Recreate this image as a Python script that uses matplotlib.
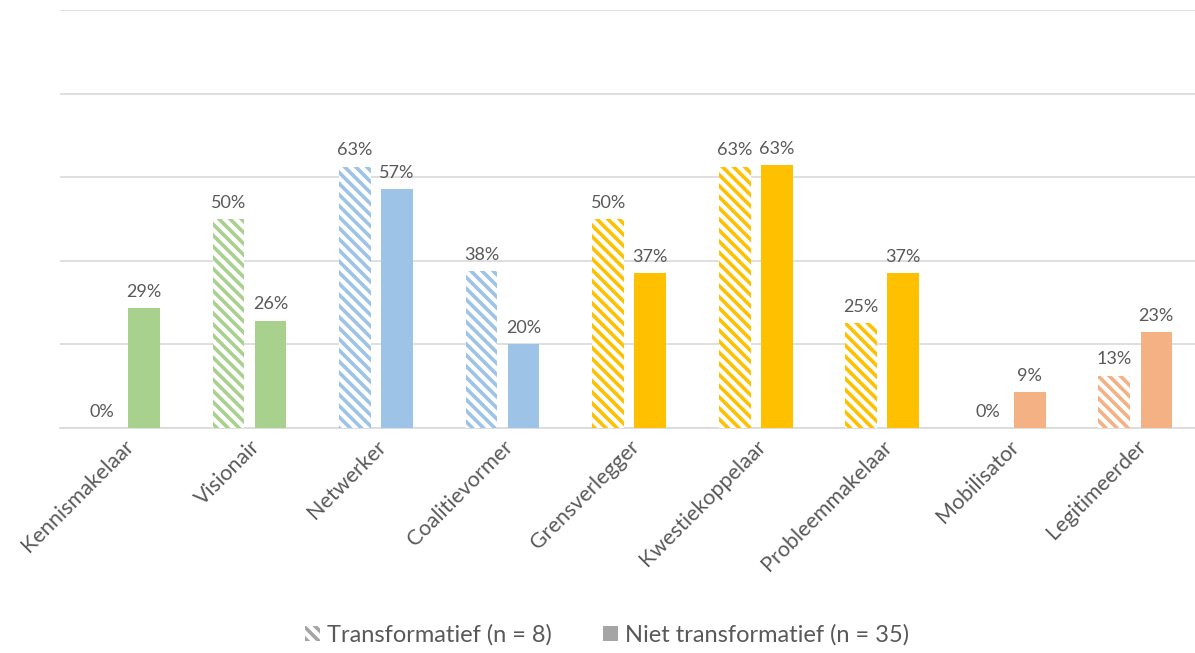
import matplotlib
matplotlib.use("Agg")
import matplotlib.pyplot as plt
from matplotlib.patches import Patch
import numpy as np

categories = ["Kennismakelaar", "Visionair", "Netwerker", "Coalitievormer",
              "Grensverlegger", "Kwestiekoppelaar", "Probleemmakelaar",
              "Mobilisator", "Legitimeerder"]
# percentages
transformatief = [0, 50, 62.5, 37.5, 50, 62.5, 25, 0, 12.5]
niet_transformatief = [28.6, 25.7, 57.1, 20.0, 37.1, 62.9, 37.1, 8.6, 22.9]
colors = ["#A9D18E", "#A9D18E", "#9DC3E6", "#9DC3E6", "#FFC000",
          "#FFC000", "#FFC000", "#F4B183", "#F4B183"]

plt.rcParams["font.family"] = ["Lato", "DejaVu Sans"]
plt.rcParams["hatch.linewidth"] = 2.6
text_col = "#595959"

fig = plt.figure(figsize=(11.95, 6.53), dpi=100)
ax = fig.add_axes([0.05, 0.3446, 0.953, 0.6401])

x = np.arange(len(categories))
w = 0.25
off = 0.166

for i in range(len(categories)):
    ax.bar(x[i] - off, transformatief[i], w, facecolor="white",
           edgecolor=colors[i], hatch="\\\\\\", linewidth=0, zorder=3)
    ax.bar(x[i] + off, niet_transformatief[i], w, color=colors[i],
           linewidth=0, zorder=3)
    ax.text(x[i] - off, transformatief[i] + 2, f"{int(transformatief[i] + 0.5)}%",
            ha="center", va="bottom", fontsize=13, color=text_col)
    ax.text(x[i] + off, niet_transformatief[i] + 2, f"{int(niet_transformatief[i] + 0.5)}%",
            ha="center", va="bottom", fontsize=13, color=text_col)

ax.set_xlim(-0.5, len(categories) - 0.5)
ax.set_ylim(0, 100)
ax.set_yticks(np.arange(0, 101, 20))
ax.yaxis.grid(True, color="#D9D9D9", linewidth=1.2, zorder=0)
ax.tick_params(axis="y", left=False, labelleft=False)
ax.tick_params(axis="x", length=0, pad=6)
ax.set_xticks(x)
ax.set_xticklabels(categories, rotation=45, ha="right", rotation_mode="anchor",
                   fontsize=15.5, color=text_col)
for s in ["top", "right", "left"]:
    ax.spines[s].set_visible(False)
ax.spines["bottom"].set_color("#D9D9D9")
ax.spines["bottom"].set_linewidth(1.2)

handles = [Patch(facecolor="white", edgecolor="#A5A5A5", hatch="\\\\\\", linewidth=0),
           Patch(facecolor="#A5A5A5", linewidth=0)]
fig.legend(handles, ["Transformatief (n = 8)", "Niet transformatief (n = 35)"],
           loc="center", bbox_to_anchor=(0.508, 0.028), ncol=2, frameon=False,
           fontsize=17, labelcolor=text_col, handlelength=0.6, handleheight=0.6,
           columnspacing=2.2, handletextpad=0.3)

fig.savefig("out.png", dpi=100)
